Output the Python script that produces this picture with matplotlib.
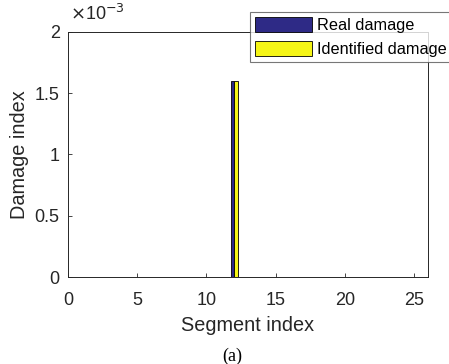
import numpy as np
import matplotlib
matplotlib.use('Agg')
import matplotlib.pyplot as plt

plt.rcParams['font.family'] = ['Liberation Sans', 'DejaVu Sans']

segments = np.arange(1, 26)
real_damage = np.zeros(25)
real_damage[11] = 1.6e-3
ident_damage = np.zeros(25)
ident_damage[11] = 1.6e-3

col_real = '#2e2a86'
col_ident = '#f5f516'
gray = '#262626'

fig = plt.figure(figsize=(4.49, 3.64), dpi=100)
ax = fig.add_axes([68/449, 1 - 277/364, (428-68)/449, (277-32)/364])

w = 0.25
ax.bar(segments - w/2, real_damage / 1e-3, w, color=col_real, edgecolor='k', linewidth=0.6, label='Real damage')
ax.bar(segments + w/2, ident_damage / 1e-3, w, color=col_ident, edgecolor='k', linewidth=0.6, label='Identified damage')

ax.set_xlim(0, 26)
ax.set_ylim(0, 2)
ax.set_xticks([0, 5, 10, 15, 20, 25])
ax.set_yticks([0, 0.5, 1, 1.5, 2])
ax.set_yticklabels(['0', '0.5', '1', '1.5', '2'])
ax.tick_params(direction='in', length=3, width=0.6, colors=gray, labelsize=13)
ax.tick_params(axis='x', pad=11)
ax.tick_params(axis='y', pad=6)
for s in ax.spines.values():
    s.set_color(gray)
    s.set_linewidth(0.7)

ax.set_xlabel('Segment index', fontsize=14.3, color=gray, labelpad=5)
ax.set_ylabel('Damage index', fontsize=14.3, color=gray, labelpad=4)
fig.text(70/449, 1 - 14/364, r'$\times$10$^{-3}$', fontsize=13, color=gray, va='center', ha='left')

leg = ax.legend(loc='upper left', bbox_to_anchor=((250-68)/(428-68), (277-12)/(277-32)),
                frameon=True, fancybox=False, edgecolor='#555555', fontsize=11.7,
                handlelength=3.5, handleheight=1.1, borderpad=0.3, labelspacing=0.45,
                handletextpad=0.35, borderaxespad=0)
leg.get_frame().set_linewidth(0.8)

fig.text(232/449, 1 - 356/364, '(a)', fontsize=13, family='Liberation Serif',
         ha='center', va='center', color='k')

fig.savefig('out.png', dpi=100)
